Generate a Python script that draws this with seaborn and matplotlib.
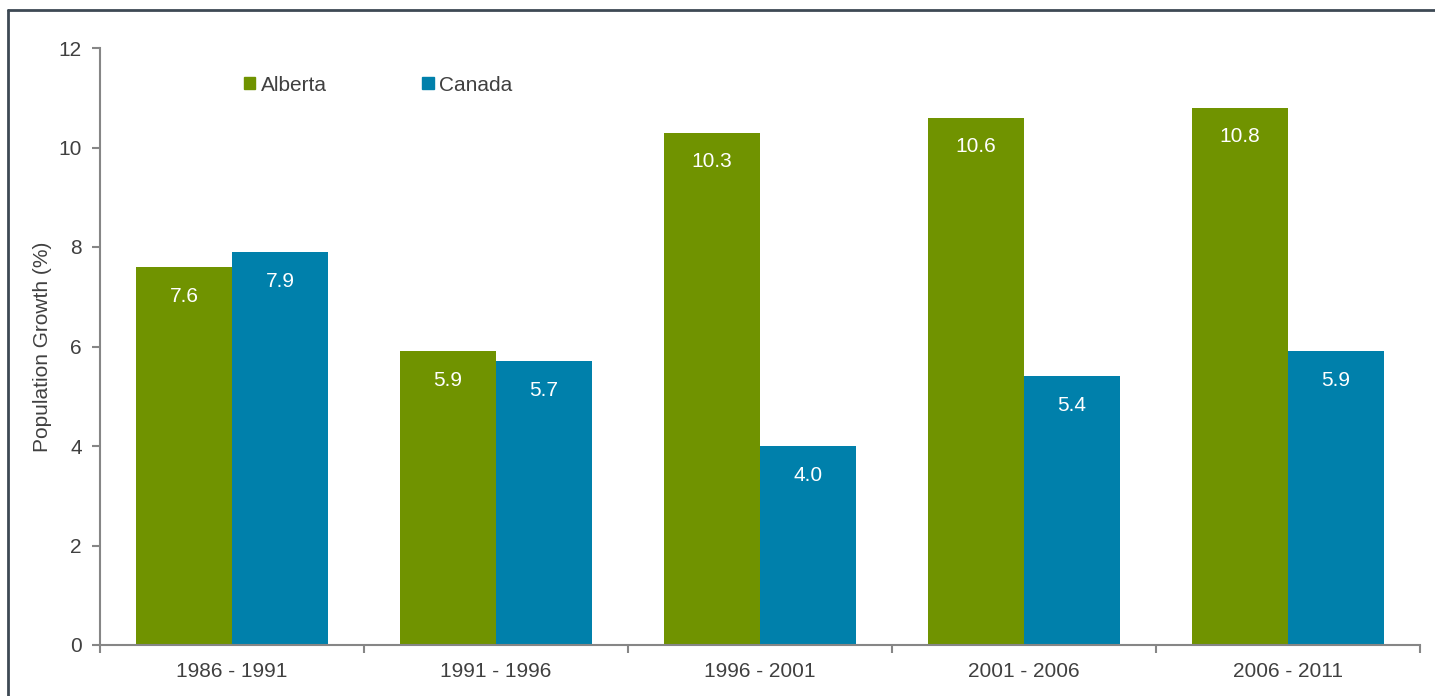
import pandas as pd
import matplotlib.pyplot as plt
import seaborn as sns
from matplotlib.lines import Line2D
from matplotlib.patches import Patch

# datos
periodos = ['1986 - 1991', '1991 - 1996', '1996 - 2001', '2001 - 2006', '2006 - 2011']
alberta = [7.6, 5.9, 10.3, 10.6, 10.8]
canada = [7.9, 5.7, 4.0, 5.4, 5.9]

df = pd.DataFrame({
    'periodo': periodos * 2,
    'region': ['Alberta'] * len(periodos) + ['Canada'] * len(periodos),
    'valor': alberta + canada,
})

verde = '#709300'
azul = '#0080AB'
gris_texto = '#404040'
gris_eje = '#868686'
fs = 15

sns.set_style('ticks')
plt.rcParams['font.family'] = ['Liberation Sans', 'DejaVu Sans']

fig = plt.figure(figsize=(14.35, 6.96), dpi=100)
ax = fig.add_axes([100 / 1435, 51 / 696, 1320 / 1435, 597 / 696])

sns.barplot(data=df, x='periodo', y='valor', hue='region', order=periodos,
            hue_order=['Alberta', 'Canada'], palette=[verde, azul],
            width=0.727, gap=0, saturation=1, errorbar=None, ax=ax, legend=False,
            linewidth=0)

# etiquetas dentro de las barras
for cont in ax.containers:
    for barra, txt in zip(cont, [f'{v:.1f}' for v in cont.datavalues]):
        ax.annotate(txt, (barra.get_x() + barra.get_width() / 2, barra.get_height()),
                    xytext=(0, -21), textcoords='offset points',
                    ha='center', va='center', color='white', fontsize=fs)

ax.set_xlim(-0.5, len(periodos) - 0.5)
ax.set_ylim(0, 12)
ax.set_yticks(range(0, 13, 2))
ax.set_xticks([i - 0.5 for i in range(len(periodos) + 1)])
ax.set_xticklabels([])
ax.set_xticks(range(len(periodos)), minor=True)
ax.set_xticklabels(periodos, minor=True)
ax.tick_params(axis='x', which='major', length=6, width=1.5, color=gris_eje, direction='out')
ax.tick_params(axis='x', which='minor', length=0, pad=12, labelsize=fs, labelcolor=gris_texto)
ax.tick_params(axis='y', length=6, width=1.5, color=gris_eje, labelsize=fs,
               labelcolor=gris_texto, pad=7)

ax.set_xlabel('')
ax.set_ylabel('Population Growth (%)', fontsize=fs, color=gris_texto, labelpad=5)

sns.despine(ax=ax)
for s in ['left', 'bottom']:
    ax.spines[s].set_color(gris_eje)
    ax.spines[s].set_linewidth(1.5)

handles = [Patch(color=verde, label='Alberta'), Patch(color=azul, label='Canada')]
ax.legend(handles=handles, ncol=2, frameon=False, loc='center left',
          bbox_to_anchor=(0.109, 0.938), borderpad=0, borderaxespad=0,
          handlelength=0.55, handleheight=0.55, handletextpad=0.25,
          columnspacing=4.6, fontsize=fs, labelcolor=gris_texto)

# marco de la figura
fig.add_artist(Line2D([8 / 1435, 1], [1 - 10 / 696, 1 - 10 / 696], color='#3d4954', lw=2))
fig.add_artist(Line2D([8 / 1435, 8 / 1435], [0, 1 - 10 / 696], color='#3d4954', lw=2))

plt.savefig('out.png', dpi=100)
